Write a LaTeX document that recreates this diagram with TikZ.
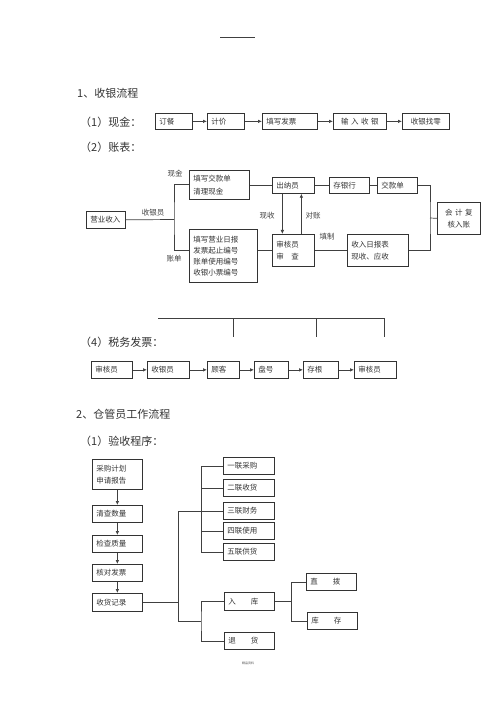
\documentclass[tikz,border=0pt]{standalone}
\usepackage{fontspec}
\setmainfont{Noto Sans CJK SC}
\usetikzlibrary{arrows.meta}

\tikzset{
  box/.style={draw=black!80, line width=0.7pt, anchor=north west, inner xsep=4pt, inner ysep=0pt,
    align=left, font=\fontsize{7.5}{11}\selectfont, text=black!80},
  link/.style={draw=black!75, line width=0.7pt},
  flow/.style={link, -{Latex[length=4pt,width=3.5pt]}},
  title/.style={anchor=west, inner sep=0pt, font=\fontsize{11}{13}\selectfont, text=black!80},
  tag/.style={inner sep=0pt, font=\fontsize{7.5}{9}\selectfont, text=black!75},
}

\begin{document}
\begin{tikzpicture}[x=1pt, y=-1pt]
\useasboundingbox (0,0) rectangle (500,708);

    \draw[link, line width=0.5pt] (220,37) -- (255,37);

    \node[title] (head1) at (77,93) {1、收银流程};
    \node[title] (cashHead) at (80,122) {（1）现金：};
    \node[title] (billHead) at (80,147) {（2）账表：};

    % (1) cash
    \node[box, text width=29pt, minimum height=16pt] (order) at (155,113) {订餐};
    \node[box, text width=29pt, minimum height=16pt] (price) at (207,113) {计价};
    \node[box, text width=47pt, minimum height=16pt] (invoice) at (262,113) {填写发票};
    \node[box, text width=45pt, minimum height=16pt, align=center] (enterCash) at (333,113) {输 入 收 银};
    \node[box, text width=39pt, minimum height=16pt, align=center] (change) at (402,113) {收银找零};
    \draw[flow] (order) -- (price);
    \draw[flow] (price) -- (invoice);
    \draw[flow] (invoice) -- (enterCash);
    \draw[flow] (enterCash) -- (change);

    % (2) bills
    \node[box, text width=31pt, minimum height=17pt] (income) at (86,211) {营业收入};
    \node[box, text width=52pt, minimum height=29pt, font=\fontsize{7.5}{13}\selectfont] (cashSlip) at (189,170) {填写交款单\\清理现金};
    \node[box, text width=60pt, minimum height=53pt] (dailyReport) at (189,229) {填写营业日报\\发票起止编号\\账单使用编号\\收银小票编号};
    \node[box, text width=34pt, minimum height=16pt] (cashier) at (272,177) {出纳员};
    \node[box, text width=32pt, minimum height=16pt] (bank) at (329,177) {存银行};
    \node[box, text width=32pt, minimum height=16pt] (slip) at (377,177) {交款单};
    \node[box, text width=35pt, minimum height=32pt, align=center, font=\fontsize{7.5}{12}\selectfont] (accounting) at (437,202) {会 计 复\\核入账};
    \node[box, text width=34pt, minimum height=32pt, font=\fontsize{7.5}{12}\selectfont] (checker) at (272,234) {审核员\\审　查};
    \node[box, text width=53pt, minimum height=32pt, font=\fontsize{7.5}{12}\selectfont] (report) at (347,234) {收入日报表\\现收、应收};

    \coordinate (split) at (174,219.5);
    \coordinate (merge) at (430,218);
    \draw[link] (income.east) -- (split);
    \draw[link] (cashSlip.west) -| (split) |- (dailyReport.west |- checker.west);
    \draw[link] (dailyReport.east |- checker.west) -- (checker.west);
    \draw[link] (checker.east) -- (report.west);
    \draw[link] (cashSlip.east |- cashier.west) -- (cashier.west);
    \draw[link] (cashier) -- (bank);
    \draw[link] (bank) -- (slip);
    \draw[link] (slip.east) -| (merge) |- (report.east);
    \draw[link] (merge) -- (accounting.west);
    \draw[flow] ([xshift=-11pt]cashier.south) -- ([xshift=-11pt]cashier.south |- checker.north);
    \draw[flow] ([xshift=8pt]checker.north) -- ([xshift=8pt]checker.north |- cashier.south);

    \node[tag] at (153,213) {收银员};
    \node[tag] at (175,174) {现金};
    \node[tag] at (174,259) {账单};
    \node[tag] at (267,216) {现收};
    \node[tag] at (313,216) {对账};
    \node[tag] at (327,237) {填制};

    % (4) tax invoice
    \draw[link] (158,318) -- (384,318) -- (384,337);
    \draw[link] (233,318) -- (233,337);
    \draw[link] (316,318) -- (316,337);
    \node[title] (taxHead) at (80,342) {（4）税务发票：};
    \node[box, text width=33pt, minimum height=17pt] (taxChecker) at (91,361) {审核员};
    \node[box, text width=34pt, minimum height=17pt] (taxCashier) at (147,361) {收银员};
    \node[box, text width=24pt, minimum height=17pt] (guest) at (207,361) {顾客};
    \node[box, text width=26pt, minimum height=17pt] (plate) at (254,361) {盘号};
    \node[box, text width=27pt, minimum height=17pt] (stub) at (303,361) {存根};
    \node[box, text width=34pt, minimum height=17pt] (lastChecker) at (354,361) {审核员};
    \draw[flow] (taxChecker) -- (taxCashier);
    \draw[flow] (taxCashier) -- (guest);
    \draw[flow] (guest) -- (plate);
    \draw[flow] (plate) -- (stub);
    \draw[flow] (stub) -- (lastChecker);

    % 2 warehouse
    \node[title] (head2) at (76,414) {2、仓管员工作流程};
    \node[title] (checkHead) at (80,441) {（1）验收程序：};
    \node[box, text width=42pt, minimum height=30pt, font=\fontsize{7.5}{12}\selectfont] (plan) at (92,459) {采购计划\\申请报告};
    \node[box, text width=42pt, minimum height=17pt] (count) at (92,505) {清查数量};
    \node[box, text width=42pt, minimum height=17pt] (quality) at (92,535) {检查质量};
    \node[box, text width=42pt, minimum height=17pt] (verify) at (92,564) {核对发票};
    \node[box, text width=42pt, minimum height=18pt] (record) at (92,593) {收货记录};
    \draw[flow] (plan) -- (count);
    \draw[flow] (count) -- (quality);
    \draw[flow] (quality) -- (verify);
    \draw[flow] (verify) -- (record);

    \node[box, text width=43pt, minimum height=17pt] (copy1) at (223,457) {一联采购};
    \node[box, text width=43pt, minimum height=17pt] (copy2) at (223,479) {二联收货};
    \node[box, text width=43pt, minimum height=17pt] (copy3) at (223,502) {三联财务};
    \node[box, text width=43pt, minimum height=17pt] (copy4) at (223,522) {四联使用};
    \node[box, text width=43pt, minimum height=17pt] (copy5) at (223,543) {五联供货};
    \draw[link] (copy1.west) -- ++(-22,0) |- (copy5.west);
    \foreach \n in {2,3,4}
        \draw[link] (copy\n.west) -- ++(-22,0);

    \node[box, text width=42pt, minimum height=18pt] (stockIn) at (224,592) {入　　库};
    \node[box, text width=42pt, minimum height=17pt] (goodsReturn) at (224,632) {退　　货};
    \node[box, text width=42pt, minimum height=17pt] (direct) at (306,573) {直　　拨};
    \node[box, text width=42pt, minimum height=17pt] (store) at (307,612) {库　　存};

    \coordinate (inHub) at (201,621);
    \draw[link] (record.east) -- ++(36,0) coordinate (hub);
    \draw[link] (copy3.west) -| (hub) |- (inHub);
    \draw[link] (stockIn.west) -| (inHub) |- (goodsReturn.west);
    \draw[link] (stockIn.east) -- ++(17,0) coordinate (outHub);
    \draw[link] (direct.west) -| (outHub) |- (store.west);

    \node[font=\fontsize{3}{3}\selectfont, text=black!70] (footer) at (248,663) {精品资料};
\end{tikzpicture}
\end{document}
